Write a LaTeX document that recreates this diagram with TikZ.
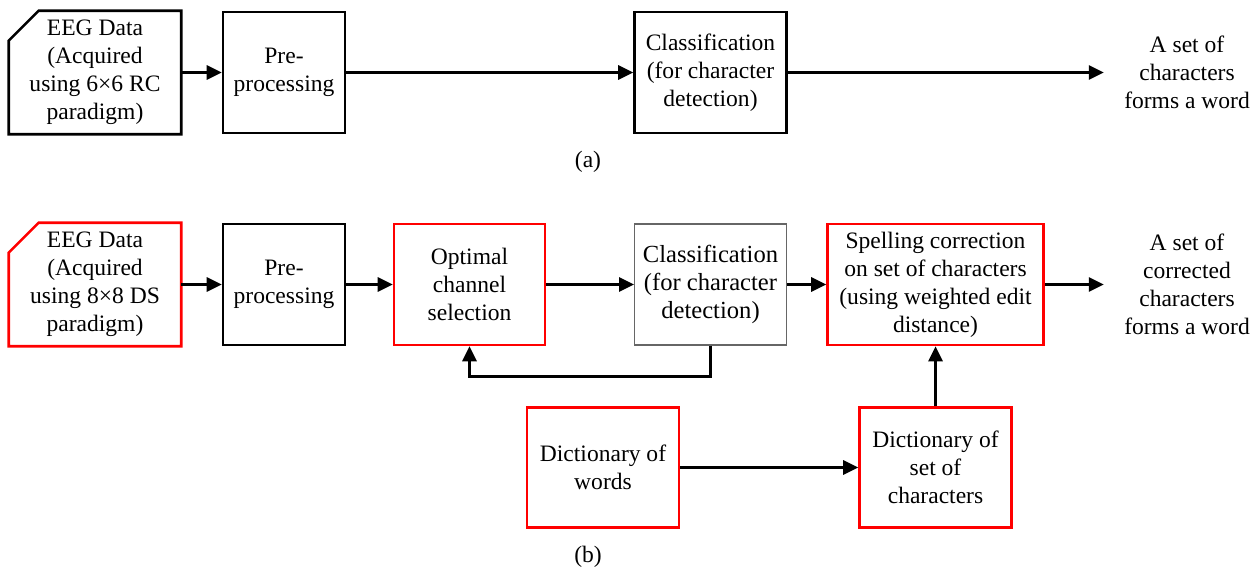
\documentclass[tikz,border=0pt]{standalone}
\usepackage{fontspec}
\setmainfont{Liberation Serif}
\usetikzlibrary{arrows.meta}

\tikzset{
  blk/.style={draw, line width=1.5pt, align=center, inner sep=0pt, minimum height=2.42cm},
  redblk/.style={blk, draw=red},
  flow/.style={line width=1.6pt, -{Triangle[length=0.3cm, width=0.28cm]}},
  outtext/.style={align=center, inner xsep=0.4cm}
}

\begin{document}
\begin{tikzpicture}[x=0.02cm, y=-0.02cm, font=\fontsize{13.4}{15.9}\selectfont]
\useasboundingbox (0,0) rectangle (1257,573);

% (a)
\node (eegA) at (95, 72.5) [blk, draw=none, minimum width=3.4cm] {EEG Data\\(Acquired\\using 6×6 RC\\paradigm)};
\draw[line width=1.5pt] ([yshift=-0.6cm]eegA.north west) -- ([xshift=0.6cm]eegA.north west) -- (eegA.north east) -- (eegA.south east) -- (eegA.south west) -- cycle;
\node (preA) at (284, 72.5) [blk, minimum width=2.44cm] {Pre-\\processing};
\node (clsA) at (710.5, 72.5) [blk, minimum width=3.04cm] {Classification\\(for character\\detection)};
\node (outA) at (1187, 72.5) [outtext] {A set of\\characters\\forms a word};
\node (capA) at (588, 162) {(a)};

\draw[flow] (eegA) -- (preA);
\draw[flow] (preA) -- (clsA);
\draw[flow] (clsA) -- (outA);

% (b)
\node (eegB) at (95, 284.5) [blk, draw=none, minimum width=3.4cm] {EEG Data\\(Acquired\\using 8×8 DS\\paradigm)};
\draw[line width=1.5pt, red] ([yshift=-0.6cm]eegB.north west) -- ([xshift=0.6cm]eegB.north west) -- (eegB.north east) -- (eegB.south east) -- (eegB.south west) -- cycle;
\node (preB) at (284, 284.5) [blk, minimum width=2.44cm] {Pre-\\processing};
\node (optB) at (469.5, 284.5) [redblk, minimum width=3.02cm] {Optimal\\channel\\selection};
\node (clsB) at (710.5, 284.5) [blk, line width=0.6pt, draw=black!60, minimum width=3.04cm, font=\fontsize{14}{15.9}\selectfont] {Classification\\(for character\\detection)};
\node (spell) at (935.5, 284.5) [redblk, minimum width=4.32cm] {Spelling correction\\on set of characters\\(using weighted edit\\distance)};
\node (outB) at (1187, 284.5) [outtext] {A set of\\corrected\\characters\\forms a word};
\node (dictW) at (603, 467.5) [redblk, minimum width=3.04cm, minimum height=2.4cm] {Dictionary of\\words};
\node (dictC) at (935.5, 467.5) [redblk, minimum width=3.04cm, minimum height=2.4cm] {Dictionary of\\set of\\characters};
\node (capB) at (588, 557) {(b)};

\draw[flow] (eegB) -- (preB);
\draw[flow] (preB) -- (optB);
\draw[flow] (optB) -- (clsB);
\draw[flow] (clsB) -- (spell);
\draw[flow] (spell) -- (outB);
\draw[flow] (clsB.south) -- ++(0,31) -| (optB.south);
\draw[flow] (dictW) -- (dictC);
\draw[flow] (dictC) -- (spell);
\end{tikzpicture}
\end{document}
